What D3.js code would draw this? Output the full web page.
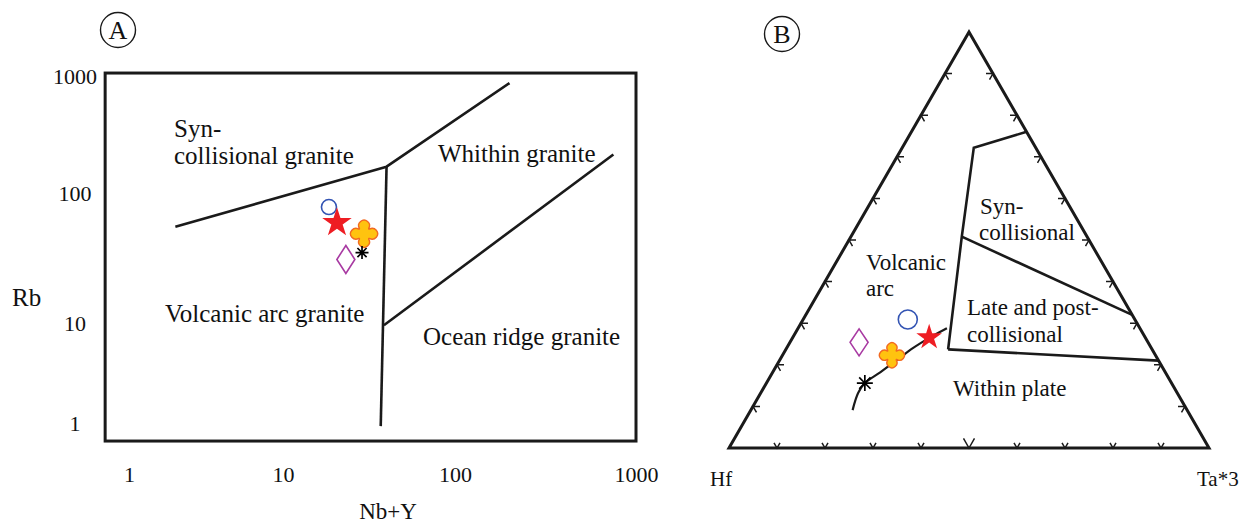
<!DOCTYPE html>
<html>
<head>
<meta charset="utf-8">
<script src="https://cdn.jsdelivr.net/npm/d3@7"></script>
<style>
  body { margin: 0; background: #fff; }
  svg { display: block; }
  svg text { font-family: "Liberation Serif", "Times New Roman", serif; fill: #111; }
</style>
</head>
<body>
<div id="chart"></div>
<script>
// ---------- data ----------
// Panel A: Rb vs Nb+Y (log-log discrimination diagram)
const tickValuesA = [1, 10, 100, 1000];
const boxNbY = [0.7, 1000];     // x extent of frame
const boxRb = [0.66, 1060];     // y extent of frame
// field boundaries, [Nb+Y, Rb]
const synColBoundary = [[2, 55], [40, 168], [200, 870]];
const vagBoundary = [[40, 168], [37, 0.93]];
const orgBoundary = [[38.6, 9.5], [750, 213]];

// sample symbols, same order in both panels
const sampleNames = ["circle", "star", "cross", "diamond", "asterisk"];
const nbY = [18.5, 20.6, 29.6, 23.2, 28.8];
const rbA = [78, 59, 48.6, 30.8, 34.8];

// Panel B: Hf - Rb/30 - Ta*3 ternary, each point [Hf, Rb/30, Ta*3]
const hfB = [47.3, 45.0, 54.9, 60.2, 63.9];
const rbB = [30.9, 26.6, 22.3, 25.4, 15.6];
const taB = [21.8, 28.4, 22.8, 14.4, 20.5];
const ternaryTicks = [10, 20, 30, 40, 50, 60, 70, 80, 90];
const colBoundary = [[0, 76, 24], [12.9, 72.2, 14.9], [26.1, 50.8, 23.1], [42.5, 23.7, 33.8]];
const latePostBoundary = [[26.1, 50.8, 23.1], [0, 32, 68]];
const wpBoundary = [[42.5, 23.7, 33.8], [0, 21, 79]];
const vaCurve = [[40.2, 28.8, 31.0], [44.8, 26.6, 28.6], [49.7, 24.0, 26.3], [54.5, 21.1, 24.4],
                 [59.4, 18.2, 22.4], [63.9, 15.6, 20.5], [66.5, 13.2, 20.3], [69.7, 9.1, 21.2]];

// ---------- setup ----------
const W = 1239, H = 524;
const svg = d3.select("#chart").append("svg").attr("width", W).attr("height", H);

const lineColor = "#1a1a1a";

// symbol painter
function drawSymbol(g, type, x, y, sz) {
  const t = `translate(${x},${y})`;
  if (type === "circle") {
    g.append("circle").attr("cx", x).attr("cy", y).attr("r", sz.circle)
      .attr("fill", "none").attr("stroke", "#3354b3").attr("stroke-width", 1.6);
  } else if (type === "star") {
    g.append("path").attr("transform", t)
      .attr("d", d3.symbol(d3.symbolStar).size(sz.star * sz.star / 0.8908130915)())
      .attr("fill", "#ee1d23");
  } else if (type === "diamond") {
    const w = sz.diamond[0], h = sz.diamond[1];
    g.append("path").attr("transform", t)
      .attr("d", `M0,${-h}L${w},0L0,${h}L${-w},0Z`)
      .attr("fill", "none").attr("stroke", "#a83aa2").attr("stroke-width", 1.6);
  } else if (type === "cross") {
    // plus with round lobes
    const L = sz.cross, R = L * 0.4, c = L - R, w = R * 0.86;
    const h = Math.sqrt(R * R - w * w);
    const p = d3.path();
    const lobes = [[0, -1], [1, 0], [0, 1], [-1, 0]];
    lobes.forEach(([dx, dy], i) => {
      const px = -dy, py = dx;
      const sx = dx * (c - h) - px * w, sy = dy * (c - h) - py * w;
      const ex = dx * (c - h) + px * w, ey = dy * (c - h) + py * w;
      if (i === 0) p.moveTo(sx, sy); else p.lineTo(sx, sy);
      const a0 = Math.atan2(sy - dy * c, sx - dx * c);
      const a1 = Math.atan2(ey - dy * c, ex - dx * c);
      p.arc(dx * c, dy * c, R, a0, a1, false);
      const nx = dx + px, ny = dy + py;
      p.lineTo(nx * w, ny * w);
    });
    p.closePath();
    g.append("path").attr("transform", t).attr("d", p.toString())
      .attr("fill", "#ffc30f").attr("stroke", "#f26a21").attr("stroke-width", 1.4)
      .attr("stroke-linejoin", "round");
  } else if (type === "asterisk") {
    const r = sz.asterisk;
    const d = d3.range(4).map(k => {
      const a = k * Math.PI / 4;
      return `M${-r * Math.cos(a)},${-r * Math.sin(a)}L${r * Math.cos(a)},${r * Math.sin(a)}`;
    }).join("");
    g.append("path").attr("transform", t).attr("d", d)
      .attr("stroke", "#000").attr("stroke-width", 1.7).attr("fill", "none");
  }
}

function circledLetter(g, x, y, letter) {
  g.append("circle").attr("cx", x).attr("cy", y).attr("r", 17.5)
    .attr("fill", "none").attr("stroke", lineColor).attr("stroke-width", 1.4);
  g.append("text").attr("x", x).attr("y", y + 9).attr("text-anchor", "middle")
    .attr("font-size", 26).text(letter);
}

// ---------- Panel A ----------
const gA = svg.append("g");
const xA = d3.scaleLog().domain([1, 10, 100, 1000]).range([129, 283, 455, 636]);
const yA = d3.scaleLog().domain([1, 10, 100, 1000]).range([423, 323, 193, 76]);

circledLetter(gA, 118, 30, "A");

gA.append("rect")
  .attr("x", xA(boxNbY[0])).attr("y", yA(boxRb[1]))
  .attr("width", xA(boxNbY[1]) - xA(boxNbY[0]))
  .attr("height", yA(boxRb[0]) - yA(boxRb[1]))
  .attr("fill", "none").attr("stroke", lineColor).attr("stroke-width", 3);

const lineA = d3.line().x(d => xA(d[0])).y(d => yA(d[1]));
[synColBoundary, vagBoundary, orgBoundary].forEach(b => {
  gA.append("path").attr("d", lineA(b)).attr("fill", "none")
    .attr("stroke", lineColor).attr("stroke-width", 2.6).attr("stroke-linejoin", "round");
});

const xAxisA = gA.append("g").attr("transform", "translate(0,466)")
  .call(d3.axisBottom(xA).tickValues(tickValuesA).tickSize(0).tickPadding(0).tickFormat(d3.format("d")))
  .attr("font-family", null).attr("font-size", 22);
xAxisA.select(".domain").remove();
xAxisA.selectAll("text").attr("fill", null);

const yAxisA = gA.append("g").attr("transform", "translate(97,0)")
  .call(d3.axisLeft(yA).tickValues(tickValuesA).tickSize(0).tickPadding(0).tickFormat(d3.format("d")))
  .attr("font-family", null).attr("font-size", 22);
yAxisA.select(".domain").remove();
yAxisA.selectAll("text").attr("fill", null).attr("text-anchor", "middle").attr("x", -22);

gA.append("text").attr("x", 12).attr("y", 306).attr("font-size", 25).text("Rb");
gA.append("text").attr("x", 388).attr("y", 519).attr("text-anchor", "middle").attr("font-size", 23).text("Nb+Y");

const labelsA = [
  { t: "Syn-", x: 174, y: 137 },
  { t: "collisional granite", x: 174, y: 164 },
  { t: "Whithin granite", x: 438, y: 162 },
  { t: "Volcanic arc granite", x: 165, y: 322 },
  { t: "Ocean ridge granite", x: 423, y: 345 }
];
gA.selectAll(".fieldA").data(labelsA).enter().append("text")
  .attr("x", d => d.x).attr("y", d => d.y).attr("font-size", 25).text(d => d.t);

const sizeA = { circle: 7.5, star: 15.5, cross: 13.5, diamond: [9, 14], asterisk: 6.5 };
sampleNames.forEach((s, i) => drawSymbol(gA, s, xA(nbY[i]), yA(rbA[i]), sizeA));

// ---------- Panel B ----------
const gB = svg.append("g");
const xB = d3.scaleLinear().domain([0, 100]).range([729, 1209]);
const yB = d3.scaleLinear().domain([0, 100]).range([448, 32]);
function proj(d) {
  const s = d[0] + d[1] + d[2];
  const rb = d[1] / s * 100, ta = d[2] / s * 100;
  return [xB(ta + rb / 2), yB(rb)];
}

circledLetter(gB, 782, 34, "B");

const triangle = [[100, 0, 0], [0, 100, 0], [0, 0, 100]].map(proj);
gB.append("path").attr("d", d3.line()(triangle) + "Z")
  .attr("fill", "none").attr("stroke", lineColor).attr("stroke-width", 3).attr("stroke-linejoin", "miter");

// ticks: two short strokes parallel to the other sides
const s3 = Math.sqrt(3) / 2;
const tickPaths = [];
ternaryTicks.forEach(t => {
  let p, L;
  p = proj([100 - t, 0, t]); L = t === 50 ? 11 : 6;
  tickPaths.push(`M${p[0] - 0.5 * L},${p[1] - s3 * L}L${p[0]},${p[1]}L${p[0] + 0.5 * L},${p[1] - s3 * L}`);
  p = proj([100 - t, t, 0]); L = 7;
  tickPaths.push(`M${p[0] + L},${p[1]}L${p[0]},${p[1]}L${p[0] + 0.5 * L},${p[1] + s3 * L}`);
  p = proj([0, t, 100 - t]);
  tickPaths.push(`M${p[0] - L},${p[1]}L${p[0]},${p[1]}L${p[0] - 0.5 * L},${p[1] + s3 * L}`);
});
gB.append("path").attr("d", tickPaths.join("")).attr("fill", "none")
  .attr("stroke", lineColor).attr("stroke-width", 1.5);

const lineB = d3.line().x(d => proj(d)[0]).y(d => proj(d)[1]);
[colBoundary, latePostBoundary, wpBoundary].forEach(b => {
  gB.append("path").attr("d", lineB(b)).attr("fill", "none")
    .attr("stroke", lineColor).attr("stroke-width", 2.6).attr("stroke-linejoin", "miter");
});
gB.append("path").attr("d", lineB.curve(d3.curveCatmullRom)(vaCurve)).attr("fill", "none")
  .attr("stroke", lineColor).attr("stroke-width", 2.2);

const labelsB = [
  { t: "Syn-", x: 980, y: 214 },
  { t: "collisional", x: 979, y: 240 },
  { t: "Volcanic", x: 866, y: 270 },
  { t: "arc", x: 866, y: 296 },
  { t: "Late and post-", x: 967, y: 315 },
  { t: "collisional", x: 967, y: 342 },
  { t: "Within plate", x: 953, y: 396 }
];
gB.selectAll(".fieldB").data(labelsB).enter().append("text")
  .attr("x", d => d.x).attr("y", d => d.y).attr("font-size", 23).text(d => d.t);

gB.append("text").attr("x", 710).attr("y", 486).attr("font-size", 21).text("Hf");
gB.append("text").attr("x", 1197).attr("y", 486).attr("font-size", 21).text("Ta*3");

const sizeB = { circle: 9.5, star: 13.5, cross: 12.5, diamond: [9, 13.5], asterisk: 8 };
sampleNames.forEach((s, i) => drawSymbol(gB, s, ...proj([hfB[i], rbB[i], taB[i]]), sizeB));
</script>
</body>
</html>
